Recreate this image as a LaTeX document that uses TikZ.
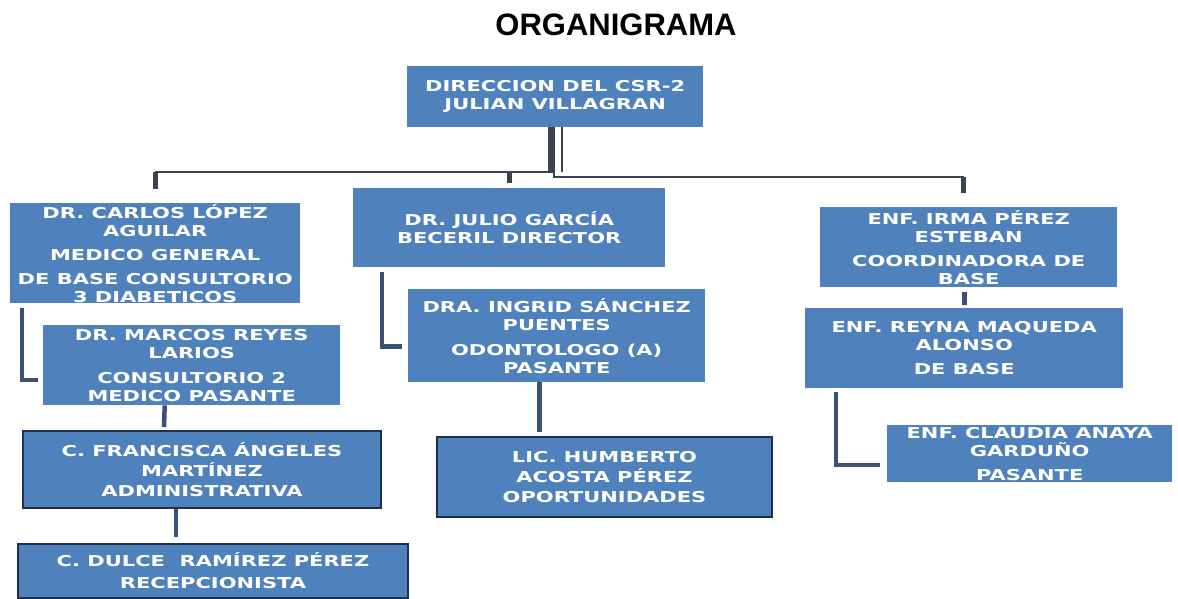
\documentclass[tikz,border=0pt]{standalone}
\usepackage{fontspec}
\usepackage{tikz}
\usetikzlibrary{positioning,calc}
\newfontfamily\boxfont{DejaVu Sans}[FakeStretch=1.4]
\newfontfamily\titlefont{Liberation Sans}
\definecolor{boxblue}{RGB}{79,129,189}
\definecolor{rimblue}{RGB}{30,48,82}
\definecolor{linkblue}{RGB}{58,80,120}
\definecolor{busgray}{RGB}{60,66,78}

\begin{document}
\begin{tikzpicture}[
    x=1pt, y=-1pt,
    box/.style={rectangle, fill=boxblue, text=white, inner sep=0pt, anchor=north west, align=center,
        font=\boxfont\bfseries\fontsize{15pt}{18pt}\selectfont},
    rimbox/.style={box, draw=rimblue, line width=2pt},
    dims/.style 2 args={minimum width=#1pt, minimum height=#2pt},
    bus/.style={draw=busgray, line width=2pt},
    drop/.style={draw=busgray, line width=5pt},
    link/.style={draw=linkblue, line width=4.5pt},
]
\useasboundingbox[fill=white] (0,0) rectangle (1178,598);

% Title
\node[font=\titlefont\bfseries\fontsize{31pt}{36pt}\selectfont, inner sep=0pt] (title) at (616,25) {ORGANIGRAMA};

% Direction
\node[box, dims={296}{61}] (dir) at (407,66) {DIRECCION DEL CSR-2\\JULIAN VILLAGRAN};

% First level
\node[box, dims={290}{100}] (carlos) at (10,203) {DR. CARLOS LÓPEZ\\AGUILAR\\[6pt]MEDICO GENERAL\\[6pt]DE BASE CONSULTORIO\\3 DIABETICOS};
\node[box, dims={312}{79}] (julio) at (353,188) {DR. JULIO GARCÍA\\BECERIL DIRECTOR};
\node[box, dims={297}{80}] (irma) at (820,207) {ENF. IRMA PÉREZ\\ESTEBAN\\[6pt]COORDINADORA DE\\BASE};

% Left branch
\node[box, dims={297}{80}] (marcos) at (43,325) {DR. MARCOS REYES\\LARIOS\\[7pt]CONSULTORIO 2\\MEDICO PASANTE};
\node[rimbox, dims={358}{77}] (francisca) at (22,430) {C. FRANCISCA ÁNGELES\\[2pt]MARTÍNEZ\\[2pt]ADMINISTRATIVA};
\node[rimbox, dims={390}{54}] (dulce) at (17,543) {C. DULCE\ \ RAMÍREZ PÉREZ\\[4pt]RECEPCIONISTA};

% Middle branch
\node[box, dims={297}{93}] (ingrid) at (408,289) {DRA. INGRID SÁNCHEZ\\PUENTES\\[7pt]ODONTOLOGO (A)\\PASANTE};
\node[rimbox, dims={335}{80}] (humberto) at (436,436) {LIC. HUMBERTO\\[2pt]ACOSTA PÉREZ\\[2pt]OPORTUNIDADES};

% Right branch
\node[box, dims={318}{80}] (reyna) at (805,308) {ENF. REYNA MAQUEDA\\ALONSO\\[6pt]DE BASE};
\node[box, dims={285}{57}] (claudia) at (887,425) {ENF. CLAUDIA ANAYA\\GARDUÑO\\[6pt]PASANTE};

% Bus from the direction
\coordinate (busL) at ([yshift=31pt]carlos.north);
\coordinate (busR) at ([xshift=-5pt,yshift=30pt]irma.north);
\draw[drop] ([xshift=-5pt]dir.south) -- ([xshift=-5pt]dir.south |- busL);
\draw[bus] ([xshift=-3pt]dir.south) |- (busL);
\draw[bus] ([xshift=-1pt]dir.south) |- (busR);
\draw[bus] ([xshift=7pt]dir.south) -- ([xshift=7pt]dir.south |- busL);
\draw[drop] (busL) -- ([yshift=14pt]carlos.north);
\draw[drop] ([yshift=16pt]julio.north) -- ([yshift=5pt]julio.north);
\draw[drop] (busR) -- ([xshift=-5pt,yshift=14pt]irma.north);

% Links
\draw[link] ([xshift=12pt,yshift=-5pt]carlos.south west) |- ([xshift=-5pt,yshift=-15pt]marcos.west);
\draw[link] ([xshift=-27pt]marcos.south) -- ([xshift=-38pt,yshift=3pt]francisca.north);
\draw[link] ([xshift=-26pt]francisca.south) -- ([xshift=-37pt,yshift=6pt]dulce.north);
\draw[link] ([xshift=29pt,yshift=-5pt]julio.south west) |- ([xshift=-6pt,yshift=-11pt]ingrid.west);
\draw[link] ([xshift=-17pt]ingrid.south) -- ([xshift=-17pt,yshift=4pt]ingrid.south |- humberto.north);
\draw[link] ([xshift=-4pt,yshift=-5pt]irma.south) -- ([xshift=-4pt,yshift=3pt]irma.south |- reyna.north);
\draw[link] ([xshift=31pt,yshift=-4pt]reyna.south west) |- ([xshift=-7pt,yshift=-11.5pt]claudia.west);
\end{tikzpicture}
\end{document}
